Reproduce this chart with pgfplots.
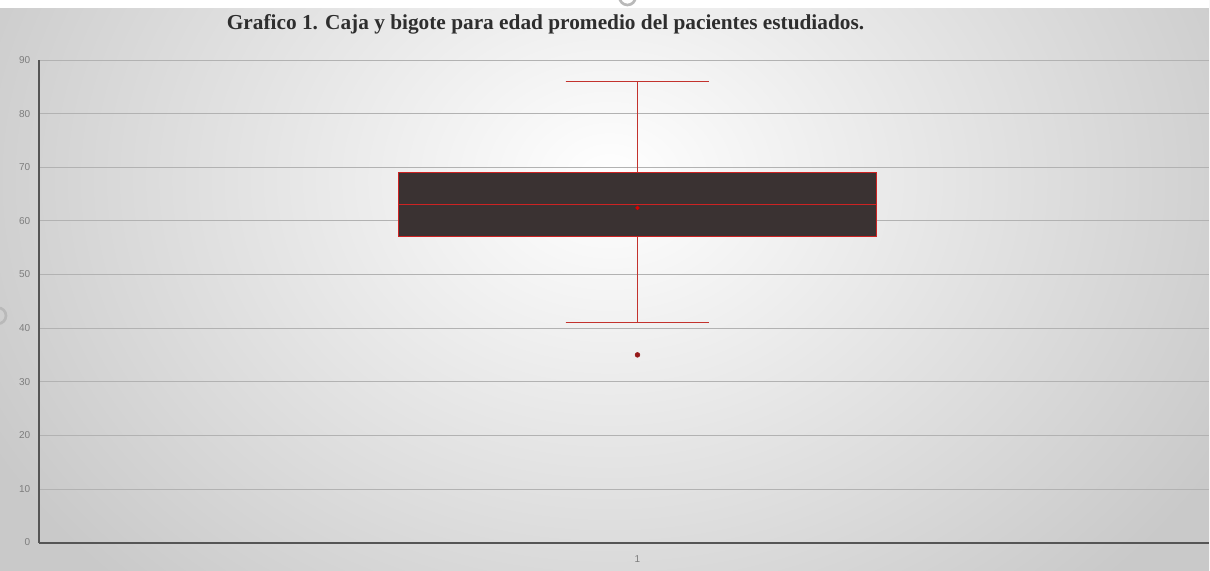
\documentclass[border=0pt]{standalone}
\usepackage{pgfplots}
\pgfplotsset{compat=1.18}
\usepgfplotslibrary{statistics}
\usepackage{fontspec}
\setmainfont{Liberation Serif}
\newfontfamily\ticksans{Liberation Sans}
\definecolor{boxfill}{RGB}{58,50,50}
\definecolor{boxedge}{RGB}{205,35,35}
\definecolor{whisk}{RGB}{195,50,45}
\definecolor{gridc}{RGB}{178,178,178}
\definecolor{ticklab}{RGB}{125,125,125}
\definecolor{axisc}{RGB}{85,85,85}
\definecolor{outlier}{RGB}{150,25,25}

\begin{document}
\begin{tikzpicture}
% frame and backdrop, in pixel units (origin top left)
\begin{scope}[x=0.75pt,y=-0.75pt,shift={(-39,-543)}]
  \useasboundingbox (0,0) rectangle (1210,571);
  \begin{scope}
    \clip (0,0) rectangle (1210,571);
    \shade[inner color=white, outer color=gray!42] (-90,-380) rectangle (1310,740);
  \end{scope}
  \fill[white] (0,0) rectangle (1210,8);
  \node[anchor=base, font=\bfseries\fontsize{16}{19}\selectfont, text=black!82]
    at (546,30) {Grafico 1. Caja y bigote para edad promedio del pacientes estudiados.};
  \draw[gray!55, line width=2] (628,-3) circle (8);
  \draw[gray!55, line width=2] (-2,316) circle (8);
\end{scope}

\begin{axis}[
  at={(0,0)}, anchor=south west,
  scale only axis, width=878.25pt, height=362.25pt,
  xmin=-599, xmax=572, ymin=0, ymax=90,
  axis x line=bottom, axis y line=left,
  axis line style={-},
  x axis line style={draw=axisc, line width=1.5pt},
  y axis line style={draw=axisc, line width=1.1pt},
  xtick={0}, xticklabels={1},
  ytick={0,10,...,90},
  major tick length=0pt,
  ymajorgrids, grid style={draw=gridc, line width=0.6pt},
  /pgf/number format/assume math mode=true,
  tick label style={font=\ticksans\fontsize{7.5}{9}\selectfont, text=ticklab},
  yticklabel style={xshift=-3pt},
  xticklabel style={yshift=-6pt},
  boxplot/draw direction=y,
  boxplot/every box/.style={draw=boxedge, fill=boxfill, line width=0.7pt},
  boxplot/every median/.style={draw=boxedge, line width=0.9pt},
]
  % whisker stems and caps
  \addplot[whisk, line width=1.1pt] coordinates {(0,41) (0,86)};
  \addplot[whisk, line width=1.1pt] coordinates {(-72,86) (72,86)};
  \addplot[whisk, line width=1.1pt] coordinates {(-72,41) (72,41)};
  % age distribution: quartiles and one outlier
  \addplot[
    boxplot prepared={
      draw position=0,
      median=63, upper quartile=69, lower quartile=57,
      upper whisker=86, lower whisker=41,
      box extend=479, whisker extend=144},
    draw=whisk, line width=1.1pt, mark=*, mark size=1.8pt,
    mark options={draw=outlier, fill=outlier, line width=0.4pt}]
    coordinates {(0,35)};
  % mean age
  \addplot[only marks, mark=*, mark size=1.4pt, color=red!85!black]
    coordinates {(0,62.4)};
\end{axis}
\end{tikzpicture}
\end{document}
